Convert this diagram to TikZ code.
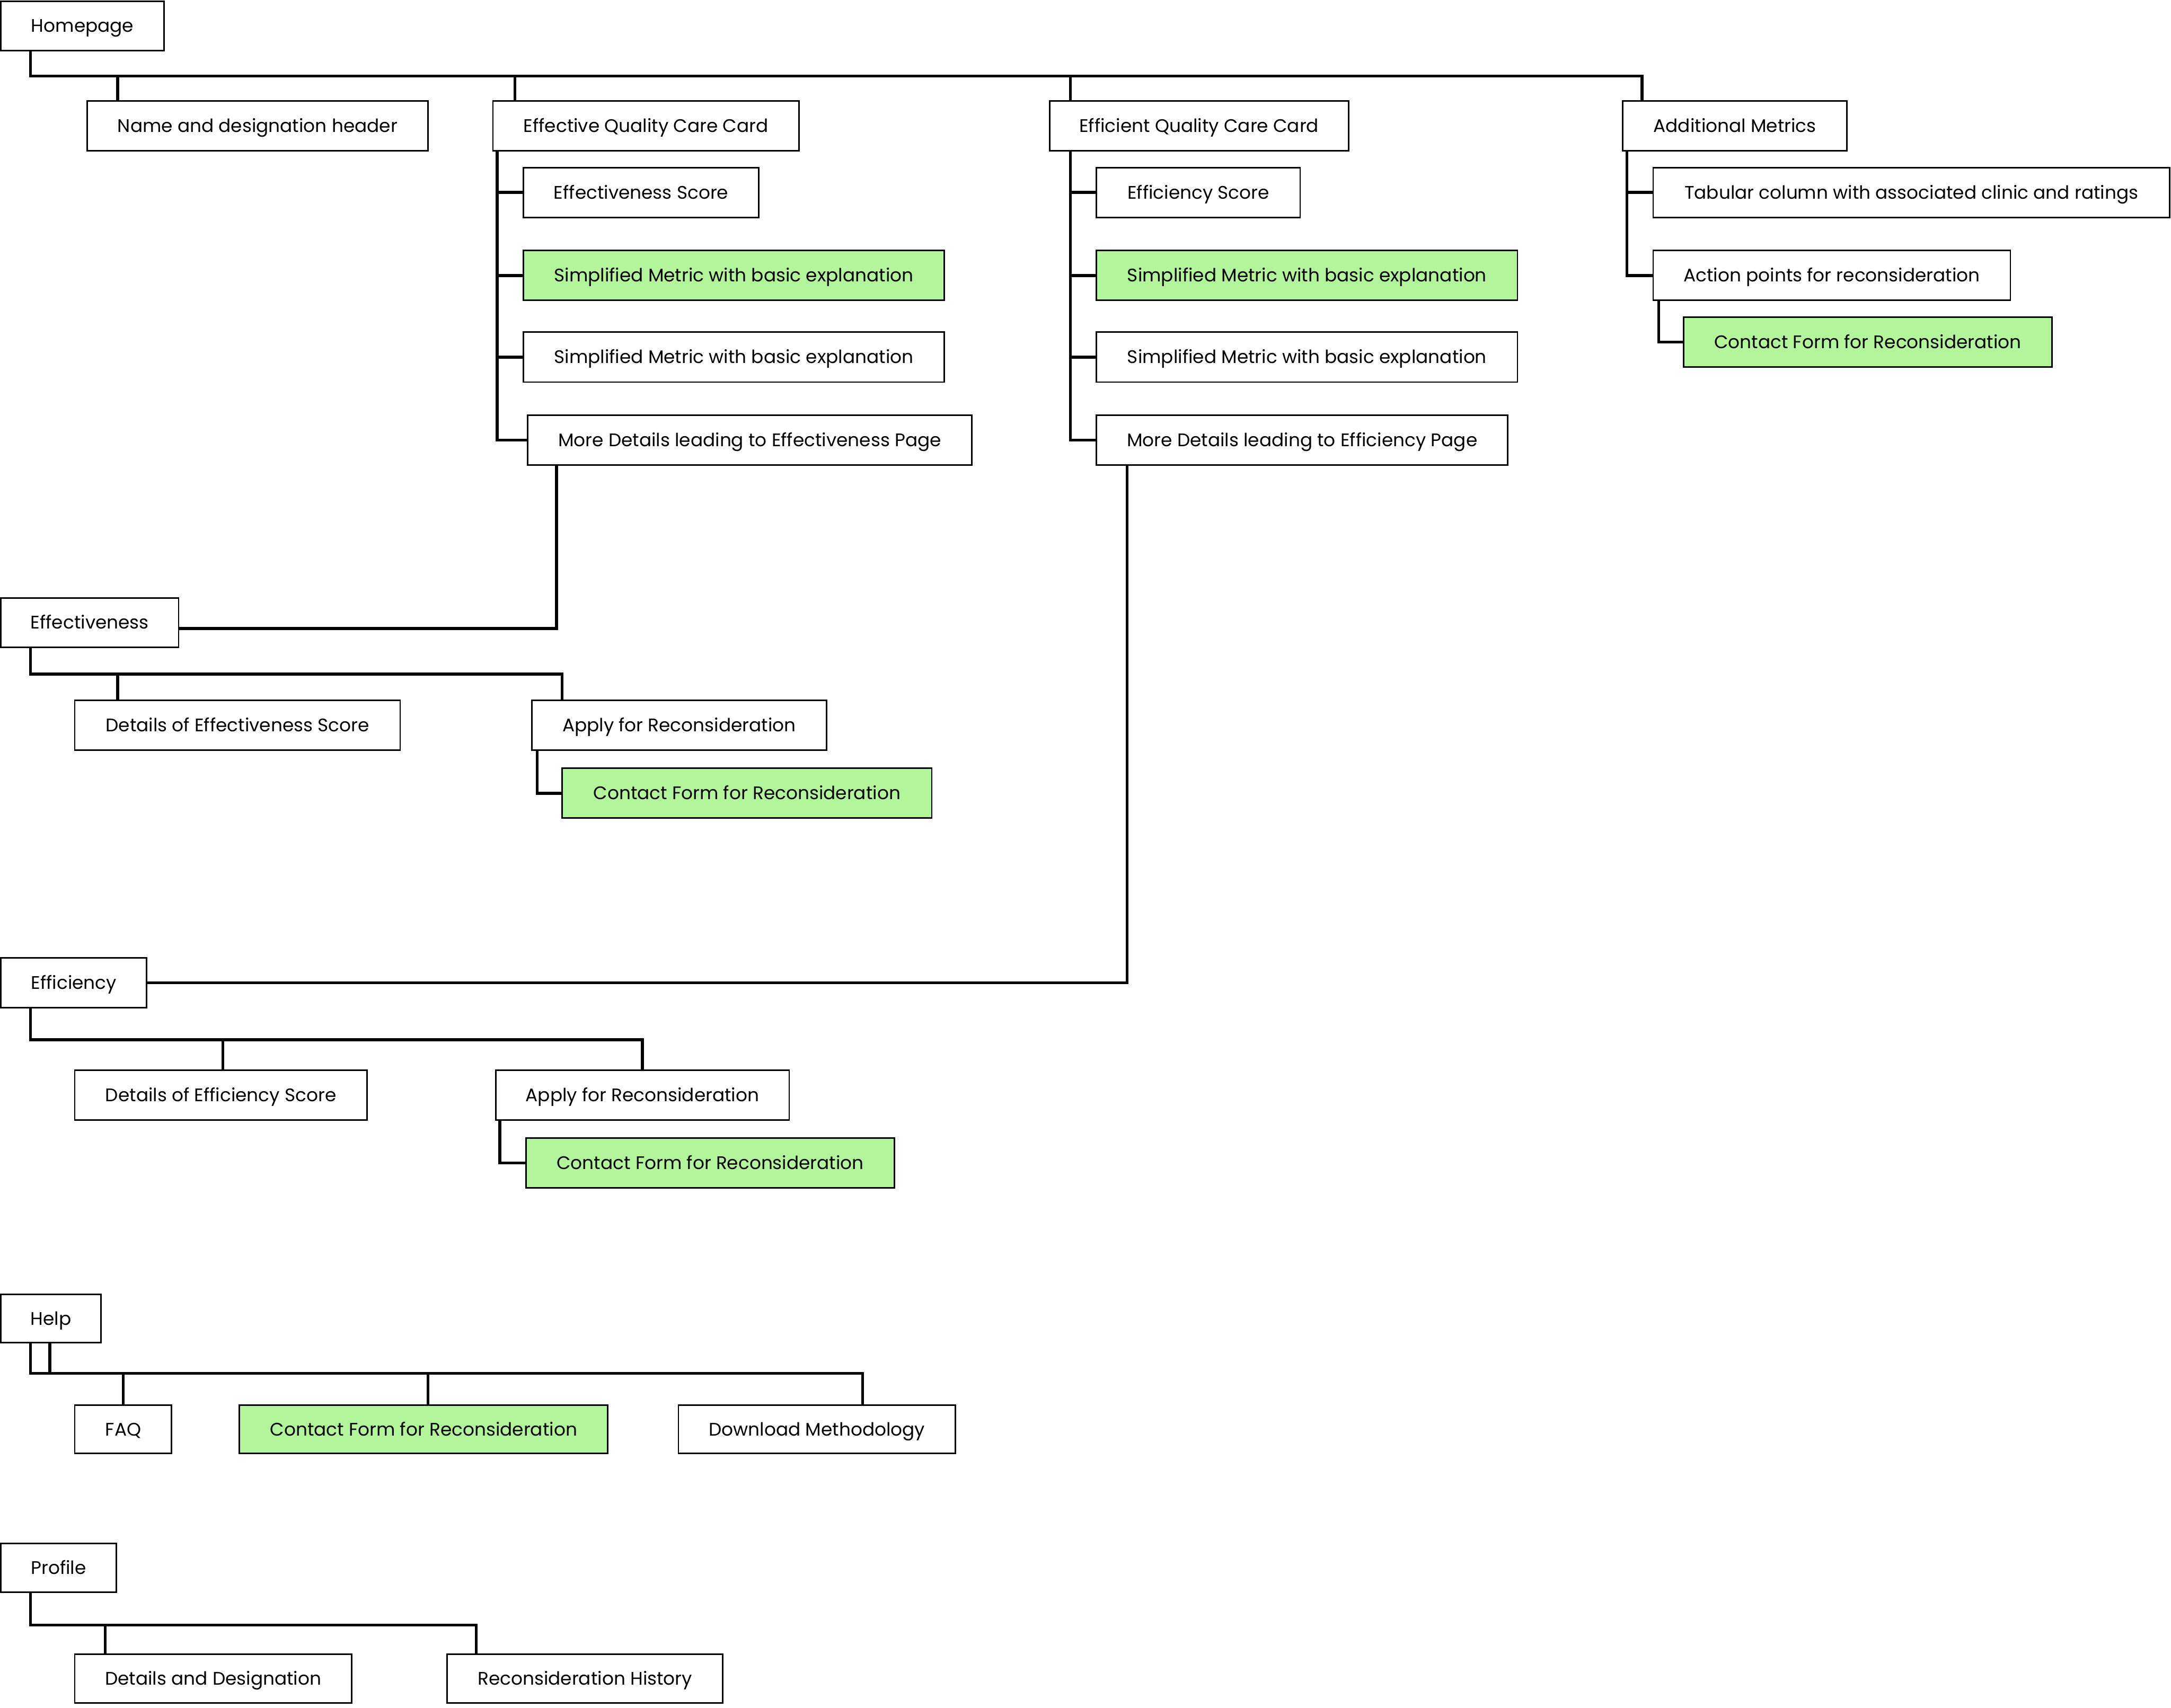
\documentclass[tikz,border=0pt]{standalone}
\usepackage{fontspec}
\setmainfont{Poppins}
\definecolor{gfill}{HTML}{B3F59B}
\tikzset{
  boxst/.style={draw=black, line width=0.85pt, fill=white, inner sep=0pt, text height=7.1pt, text depth=0pt, font=\fontsize{10.2}{12}\selectfont, text=black},
  gbox/.style={fill=gfill},
  conn/.style={draw=black, line width=1.6pt, line join=miter}
}
% [opt]{name}{x1}{y1}{x2}{y2}{text}
\newcommand\mybox[7][]{\node[boxst,#1,minimum width={(#5-#3)*0.027264cm},minimum height={(#6-#4)*0.027264cm}] (#2) at ({(#3+#5)/2},{(#4+#6)/2}) {#7};}
\begin{document}
\begin{tikzpicture}[x=0.027264cm,y=-0.027264cm]
\useasboundingbox (0,0) rectangle (1568,1233.5);
% Homepage tree
\mybox{hp}{0.6}{1}{118.5}{36.5}{Homepage}
\mybox{name}{63}{73}{309}{109}{Name and designation header}
\mybox{eqcc}{356}{73}{577}{109}{Effective Quality Care Card}
\mybox{fqcc}{758}{73}{974}{109}{Efficient Quality Care Card}
\mybox{add}{1172}{73}{1334}{109}{Additional Metrics}
% Effective card children
\mybox{es}{378}{121}{548}{157}{Effectiveness Score}
\mybox[gbox]{sga}{378}{181}{682}{217}{Simplified Metric with basic explanation}
\mybox{swa}{378}{240}{682}{276}{Simplified Metric with basic explanation}
\mybox{mda}{381}{300}{702}{336}{More Details leading to Effectiveness Page}
% Efficient card children
\mybox{fs}{792}{121}{939}{157}{Efficiency Score}
\mybox[gbox]{sgb}{792}{181}{1096}{217}{Simplified Metric with basic explanation}
\mybox{swb}{792}{240}{1096}{276}{Simplified Metric with basic explanation}
\mybox{mdb}{792}{300}{1089}{336}{More Details leading to Efficiency Page}
% Additional metrics children
\mybox{tab}{1194}{121}{1567}{157}{Tabular column with associated clinic and ratings}
\mybox{act}{1194}{181}{1452}{217}{Action points for reconsideration}
\mybox[gbox]{cfa}{1216}{229}{1482}{265}{Contact Form for Reconsideration}
% Effectiveness page
\mybox{effn}{0.6}{432}{129}{467.5}{Effectiveness}
\mybox{des}{54}{506}{289}{542}{Details of Effectiveness Score}
\mybox{appa}{384}{506}{597}{542}{Apply for Reconsideration}
\mybox[gbox]{cfb}{406}{555}{673}{591}{Contact Form for Reconsideration}
% Efficiency page
\mybox{effy}{0.6}{692}{106}{728}{Efficiency}
\mybox{dfs}{54}{773}{265}{809}{Details of Efficiency Score}
\mybox{appb}{358}{773}{570}{809}{Apply for Reconsideration}
\mybox[gbox]{cfc}{380}{822}{646}{858}{Contact Form for Reconsideration}
% Help
\mybox{help}{0.6}{935}{73}{970}{Help}
\mybox{faq}{54}{1015}{124}{1050}{FAQ}
\mybox[gbox]{cfd}{173}{1015}{439}{1050}{Contact Form for Reconsideration}
\mybox{dl}{490}{1015}{690}{1050}{Download Methodology}
% Profile
\mybox{prof}{0.6}{1115}{84}{1150}{Profile}
\mybox{dd}{54}{1195}{254}{1230}{Details and Designation}
\mybox{rh}{323}{1195}{522}{1230}{Reconsideration History}

% ---- connectors ----
% Homepage bus
\coordinate (hpbus) at (22,55);
\draw[conn] (hp.south -| hpbus) -- (hpbus) -| (add.north -| 1186,0);
\draw[conn] (name.north -| 85,0) -- (85,55);
\draw[conn] (eqcc.north -| 372,0) -- (372,55);
\draw[conn] (fqcc.north -| 773,0) -- (773,55);
% Effective card
\draw[conn] (eqcc.south -| 359,0) |- (mda.west);
\draw[conn] (es.west -| 359,0) -- (es.west);
\draw[conn] (sga.west -| 359,0) -- (sga.west);
\draw[conn] (swa.west -| 359,0) -- (swa.west);
% Efficient card
\draw[conn] (fqcc.south -| 773,0) |- (mdb.west);
\draw[conn] (fs.west -| 773,0) -- (fs.west);
\draw[conn] (sgb.west -| 773,0) -- (sgb.west);
\draw[conn] (swb.west -| 773,0) -- (swb.west);
% Additional metrics
\draw[conn] (add.south -| 1175,0) |- (act.west);
\draw[conn] (tab.west -| 1175,0) -- (tab.west);
\draw[conn] (act.south -| 1198,0) |- (cfa.west);
% Links to pages
\draw[conn] (mda.south -| 402,0) |- (effn.east |- 0,454);
\draw[conn] (mdb.south -| 814,0) |- (effy.east);
% Effectiveness page bus
\coordinate (efbus) at (22,487);
\draw[conn] (effn.south -| efbus) -- (efbus) -| (appa.north -| 406,0);
\draw[conn] (des.north -| 85,0) -- (85,487);
\draw[conn] (appa.south -| 388,0) |- (cfb.west);
% Efficiency page bus
\coordinate (fybus) at (22,751);
\draw[conn] (effy.south -| fybus) -- (fybus) -| (appb.north -| 464,0);
\draw[conn] (dfs.north -| 161,0) -- (161,751);
\draw[conn] (appb.south -| 361,0) |- (cfc.west);
% Help bus
\coordinate (hlbus) at (22,992);
\draw[conn] (help.south -| hlbus) -- (hlbus) -| (dl.north -| 623,0);
\draw[conn] (help.south -| 36,0) -- (36,992);
\draw[conn] (faq.north -| 89,0) -- (89,992);
\draw[conn] (cfd.north -| 309,0) -- (309,992);
% Profile bus
\coordinate (prbus) at (22,1174);
\draw[conn] (prof.south -| prbus) -- (prbus) -| (rh.north -| 344,0);
\draw[conn] (dd.north -| 76,0) -- (76,1174);
\end{tikzpicture}
\end{document}
